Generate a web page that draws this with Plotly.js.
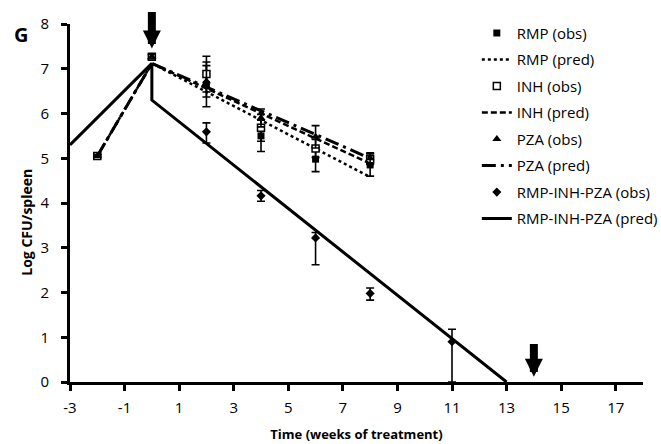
<!DOCTYPE html>
<html>
<head>
<meta charset="utf-8">
<script src="https://cdn.plot.ly/plotly-3.0.1.min.js"></script>
<style>html,body{margin:0;padding:0;background:#fff;}#chart{width:661px;height:444px;}</style>
</head>
<body>
<div id="chart"></div>
<script>
// Observed data (weeks of treatment, log CFU/spleen)
const obsWeeks = [-2, 0, 2, 4, 6, 8];
const rmpObs = [5.05, 7.27, 6.65, 5.5, 4.98, 4.85];
const rmpErr = [0.03, 0.05, 0.5, 0.35, 0.28, 0.25];
const inhObs = [5.05, 7.27, 6.88, 5.68, 5.22, 4.98];
const inhErr = [0.03, 0.05, 0.4, 0.3, 0.2, 0.12];
const pzaObs = [5.05, 7.27, 6.72, 5.9, 5.48, 5.0];
const pzaErr = [0.03, 0.05, 0.35, 0.2, 0.25, 0.12];

const comboWeeks = [2, 4, 6, 8, 11];
const comboObs = [5.59, 4.16, 3.22, 1.98, 0.9];
const comboErrPlus = [0.2, 0.12, 0.12, 0.12, 0.28];
const comboErrMinus = [0.25, 0.12, 0.6, 0.15, 0.9];

// Model predictions
const monoPredWeeks = [-2, 0, 8];
const rmpPred = [5.05, 7.12, 4.58];
const inhPred = [5.05, 7.12, 4.88];
const pzaPred = [5.05, 7.12, 5.0];
const comboPredWeeks = [-3, 0, 0, 13];
const comboPred = [5.3, 7.12, 6.3, 0];

// Arrows (treatment start, relapse-free time point)
const arrowX = [0, 14];
const arrowTip = [7.45, 0.12];
const arrowTail = [8.3, 0.88];

// Tick labels
const xTickVals = [-3, -1, 1, 3, 5, 7, 9, 11, 13, 15, 17];
const xTickText = ['-3', '-1', '1', '3', '5', '7', '9', '11', '13', '15', '17'];
const yTickVals = [0, 1, 2, 3, 4, 5, 6, 7, 8];

const FONT = '"Open Sans", "Liberation Sans", sans-serif';

function errBar(arr, minus) {
  const e = {type: 'data', array: arr, visible: true, color: '#000', thickness: 1.6, width: 4};
  if (minus) { e.symmetric = false; e.arrayminus = minus; }
  return e;
}

const traces = [
  {x: obsWeeks, y: rmpObs, name: 'RMP (obs)', mode: 'markers', legendgroup: 'a',
   marker: {symbol: 'square', size: 7, color: '#000'}, error_y: errBar(rmpErr)},
  {x: monoPredWeeks, y: rmpPred, name: 'RMP (pred)', mode: 'lines', legendgroup: 'b',
   line: {color: '#000', width: 2.5, dash: 'dot'}},
  {x: obsWeeks, y: inhObs, name: 'INH (obs)', mode: 'markers', legendgroup: 'c',
   marker: {symbol: 'square', size: 7, color: '#fff', line: {color: '#000', width: 1.5}}, error_y: errBar(inhErr)},
  {x: monoPredWeeks, y: inhPred, name: 'INH (pred)', mode: 'lines', legendgroup: 'd',
   line: {color: '#000', width: 2.5, dash: '6px,3px'}},
  {x: obsWeeks, y: pzaObs, name: 'PZA (obs)', mode: 'markers', legendgroup: 'e',
   marker: {symbol: 'triangle-up', size: 8, color: '#000'}, error_y: errBar(pzaErr)},
  {x: monoPredWeeks, y: pzaPred, name: 'PZA (pred)', mode: 'lines', legendgroup: 'f',
   line: {color: '#000', width: 3, dash: '14px,5px,3px,5px'}},
  {x: comboWeeks, y: comboObs, name: 'RMP-INH-PZA (obs)', mode: 'markers', legendgroup: 'g',
   marker: {symbol: 'diamond', size: 7, color: '#000'}, error_y: errBar(comboErrPlus, comboErrMinus)},
  {x: comboPredWeeks, y: comboPred, name: 'RMP-INH-PZA (pred)', mode: 'lines', legendgroup: 'h',
   line: {color: '#000', width: 3}}
];

const annotations = arrowX.map((x, i) => ({
  x: x, y: arrowTip[i], ax: x, ay: arrowTail[i], xref: 'x', yref: 'y', axref: 'x', ayref: 'y',
  showarrow: true, arrowhead: 2, arrowsize: 0.45, arrowwidth: 8, arrowcolor: '#000', text: ''
}));
annotations.push({
  text: '<b>G</b>', xref: 'paper', yref: 'paper', x: -0.085, y: 0.97, xanchor: 'center', yanchor: 'middle',
  showarrow: false, font: {family: FONT, size: 20, color: '#000'}
});
annotations.push({
  text: '<b>Log CFU/spleen</b>', xref: 'paper', yref: 'paper', x: -0.075, y: 0.445,
  xanchor: 'center', yanchor: 'middle', showarrow: false,
  textangle: -90, font: {family: FONT, size: 14, color: '#000'}
});

const layout = {
  width: 661, height: 444,
  margin: {l: 70, r: 18, t: 24, b: 62, autoexpand: false},
  paper_bgcolor: '#fff', plot_bgcolor: '#fff',
  font: {family: FONT, size: 14, color: '#000'},
  showlegend: true,
  legend: {x: 0.71, y: 1.02, xanchor: 'left', yanchor: 'top', bgcolor: 'rgba(0,0,0,0)',
           font: {family: FONT, size: 15, color: '#000'}, tracegroupgap: 4, traceorder: 'grouped'},
  xaxis: {range: [-3, 18], tickmode: 'array', tickvals: xTickVals, ticktext: xTickText,
          showline: true, linewidth: 3, linecolor: '#000',
          ticks: 'outside', ticklen: 6, tickwidth: 3, tickcolor: '#000', showgrid: false, zeroline: false,
          ticklabelstandoff: 4,
          tickfont: {family: FONT, size: 15, color: '#000'},
          title: {text: '<b>Time (weeks of treatment)</b>', font: {family: FONT, size: 13, color: '#000'}, standoff: 14}},
  yaxis: {range: [0, 8], tickmode: 'array', tickvals: yTickVals, showline: true, linewidth: 3, linecolor: '#000',
          ticks: 'outside', ticklen: 6, tickwidth: 3, tickcolor: '#000', showgrid: false, zeroline: false,
          ticklabelstandoff: 9,
          tickfont: {family: FONT, size: 15, color: '#000'}},
  annotations: annotations
};

Plotly.newPlot('chart', traces, layout, {displayModeBar: false, staticPlot: true});
</script>
</body>
</html>
